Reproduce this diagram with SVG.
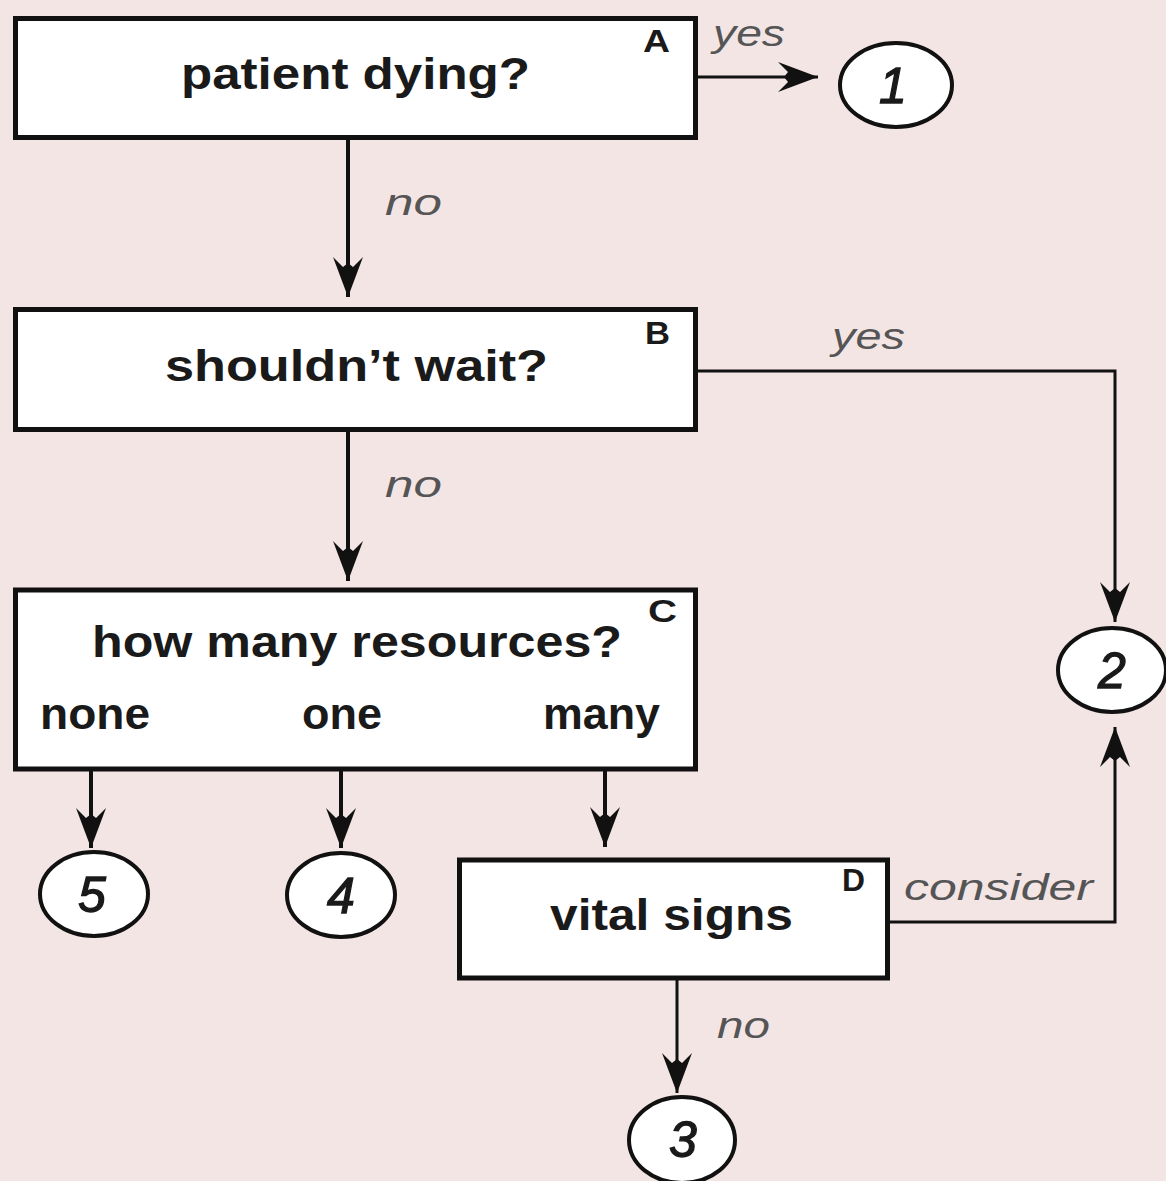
<svg xmlns="http://www.w3.org/2000/svg" width="1166" height="1181" viewBox="0 0 1166 1181">
<defs>
<style>
.box{fill:#ffffff;stroke:#111;stroke-width:5}
.circ{fill:#ffffff;stroke:#111;stroke-width:4}
.main{font-family:"Liberation Sans",Arial,sans-serif;font-weight:bold;font-size:44px;fill:#1a1a1a}
.tag{font-family:"Liberation Sans",Arial,sans-serif;font-weight:bold;font-size:32px;fill:#1a1a1a}
.lbl{font-family:"Liberation Sans",Arial,sans-serif;font-style:italic;font-size:36px;fill:#555}
.num{font-family:"Liberation Sans",Arial,sans-serif;font-style:italic;font-size:50px;fill:#1a1a1a;stroke:#1a1a1a;stroke-width:1.3;text-anchor:middle}
.con{fill:none;stroke:#111;stroke-width:4;marker-end:url(#arr)}
.thin{stroke-width:3}
</style>
<marker id="arr" viewBox="-44 -17 46 34" refX="0" refY="0" markerWidth="46" markerHeight="34" markerUnits="userSpaceOnUse" orient="auto">
<path d="M0,0 L-40,-15 L-30,-5 L-34,0 L-30,5 L-40,15 Z" fill="#111"/>
</marker>
</defs>
<rect width="1166" height="1181" fill="#f4e5e5"/>

<g id="connectors">
<path class="con thin" d="M697,77 L818,77"/>
<path class="con" d="M348,140 L348,297"/>
<path class="con thin" d="M697,371 L1115,371 L1115,622"/>
<path class="con" d="M348,432 L348,581"/>
<path class="con" d="M91,771 L91,848"/>
<path class="con" d="M341,771 L341,848"/>
<path class="con" d="M605,771 L605,847"/>
<path class="con thin" d="M889,922 L1115,922 L1115,727"/>
<path class="con thin" d="M677,980 L677,1093"/>
<text class="lbl" x="713" y="46" textLength="72" lengthAdjust="spacingAndGlyphs">yes</text>
<text class="lbl" x="385" y="215" textLength="57" lengthAdjust="spacingAndGlyphs">no</text>
<text class="lbl" x="832" y="349" textLength="73" lengthAdjust="spacingAndGlyphs">yes</text>
<text class="lbl" x="385" y="497" textLength="57" lengthAdjust="spacingAndGlyphs">no</text>
<text class="lbl" x="904" y="900" textLength="189" lengthAdjust="spacingAndGlyphs">consider</text>
<text class="lbl" x="717" y="1038" textLength="53" lengthAdjust="spacingAndGlyphs">no</text>
</g>

<g id="nodeA">
<rect class="box" x="15.5" y="18.5" width="680" height="119"/>
<text class="main" x="181" y="89" textLength="349" lengthAdjust="spacingAndGlyphs">patient dying?</text>
<text class="tag" x="643" y="52" textLength="27" lengthAdjust="spacingAndGlyphs">A</text>
</g>

<g id="nodeB">
<rect class="box" x="15.5" y="309.5" width="680" height="120"/>
<text class="main" x="165" y="381" textLength="383" lengthAdjust="spacingAndGlyphs">shouldn’t wait?</text>
<text class="tag" x="645" y="344" textLength="25" lengthAdjust="spacingAndGlyphs">B</text>
</g>

<g id="nodeC">
<rect class="box" x="15.5" y="590" width="680" height="179"/>
<text class="main" x="92" y="657" textLength="530" lengthAdjust="spacingAndGlyphs">how many resources?</text>
<text class="main" x="40" y="729" textLength="110" lengthAdjust="spacingAndGlyphs">none</text>
<text class="main" x="302" y="729" textLength="80" lengthAdjust="spacingAndGlyphs">one</text>
<text class="main" x="543" y="729" textLength="117" lengthAdjust="spacingAndGlyphs">many</text>
<text class="tag" x="648" y="622" textLength="29" lengthAdjust="spacingAndGlyphs">C</text>
</g>

<g id="nodeD">
<rect class="box" x="459.5" y="860" width="428" height="118"/>
<text class="main" x="550" y="930" textLength="243" lengthAdjust="spacingAndGlyphs">vital signs</text>
<text class="tag" x="842" y="891" textLength="23" lengthAdjust="spacingAndGlyphs">D</text>
</g>

<g id="node1">
<ellipse class="circ" cx="896" cy="85" rx="56" ry="42"/>
<text class="num" x="893" y="103">1</text>
</g>
<g id="node2">
<ellipse class="circ" cx="1112" cy="670" rx="54" ry="42"/>
<text class="num" x="1112" y="688">2</text>
</g>
<g id="node3">
<ellipse class="circ" cx="682" cy="1140" rx="53" ry="43"/>
<text class="num" x="683" y="1157">3</text>
</g>
<g id="node4">
<ellipse class="circ" cx="341" cy="895" rx="54" ry="42"/>
<text class="num" x="341" y="913">4</text>
</g>
<g id="node5">
<ellipse class="circ" cx="94" cy="894" rx="54" ry="42"/>
<text class="num" x="92" y="912">5</text>
</g>
</svg>
